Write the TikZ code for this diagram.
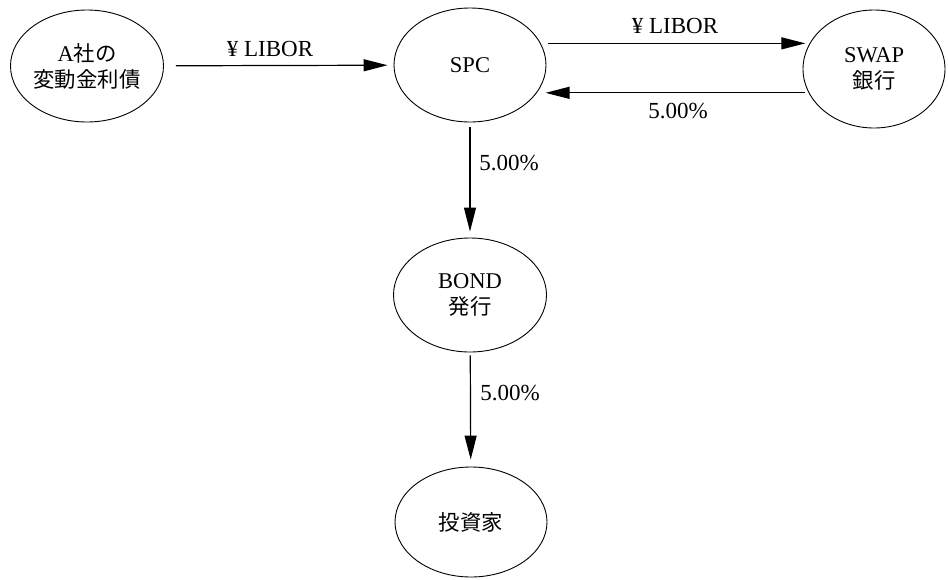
\documentclass[tikz,border=0pt]{standalone}
\usepackage{fontspec}
\setmainfont{Liberation Serif}
\newfontfamily\jp{Noto Sans CJK JP}[Scale=0.95]
\usetikzlibrary{shapes.geometric,arrows.meta}

\begin{document}
\begin{tikzpicture}[x=1pt,y=-1pt,
  party/.style={ellipse, draw, line width=0.9pt, inner sep=0pt, align=center,
    font=\fontsize{22.5}{26}\selectfont},
  flow/.style={line width=1.2pt, -{Triangle[length=24pt,width=12pt]}},
  lbl/.style={font=\fontsize{23}{26}\selectfont, inner sep=0pt}]
\useasboundingbox (0,0) rectangle (948,579);

% parties
\node[party, minimum width=153pt, minimum height=112pt] (issuer) at (87,66)
  {A{\jp 社の}\\{\jp 変動金利債}};
\node[party, minimum width=152pt, minimum height=114pt] (spc) at (470,65) {SPC};
\node[party, minimum width=142pt, minimum height=118pt] (swap) at (874,69)
  {SWAP\\{\jp 銀行}};
\node[party, minimum width=153pt, minimum height=114pt] (bond) at (470,295)
  {BOND\\{\jp 発行}};
\node[party, minimum width=152pt, minimum height=110pt] (inv) at (471,522)
  {{\jp 投資家}};

% cash flows
\draw[flow, shorten <=12pt, shorten >=6pt] (issuer) -- (spc);
\draw[flow, shorten <=7pt, shorten >=5pt] (spc.17.4) -- (swap.157.9 |- spc.17.4);
\draw[flow, shorten <=4pt, shorten >=9pt] (swap.200.3) -- (spc.337.1 |- swap.200.3);
\draw[flow, shorten <=5pt, shorten >=6pt] (spc) -- (bond);
\draw[flow, shorten <=3pt, shorten >=7pt] (bond) -- (inv);

% rates
\node[lbl] (l1) at (270,49) {¥ LIBOR};
\node[lbl] (l2) at (675,26) {¥ LIBOR};
\node[lbl] (l3) at (678,111) {5.00\%};
\node[lbl] (l4) at (509,163) {5.00\%};
\node[lbl] (l5) at (510,393) {5.00\%};
\end{tikzpicture}
\end{document}
